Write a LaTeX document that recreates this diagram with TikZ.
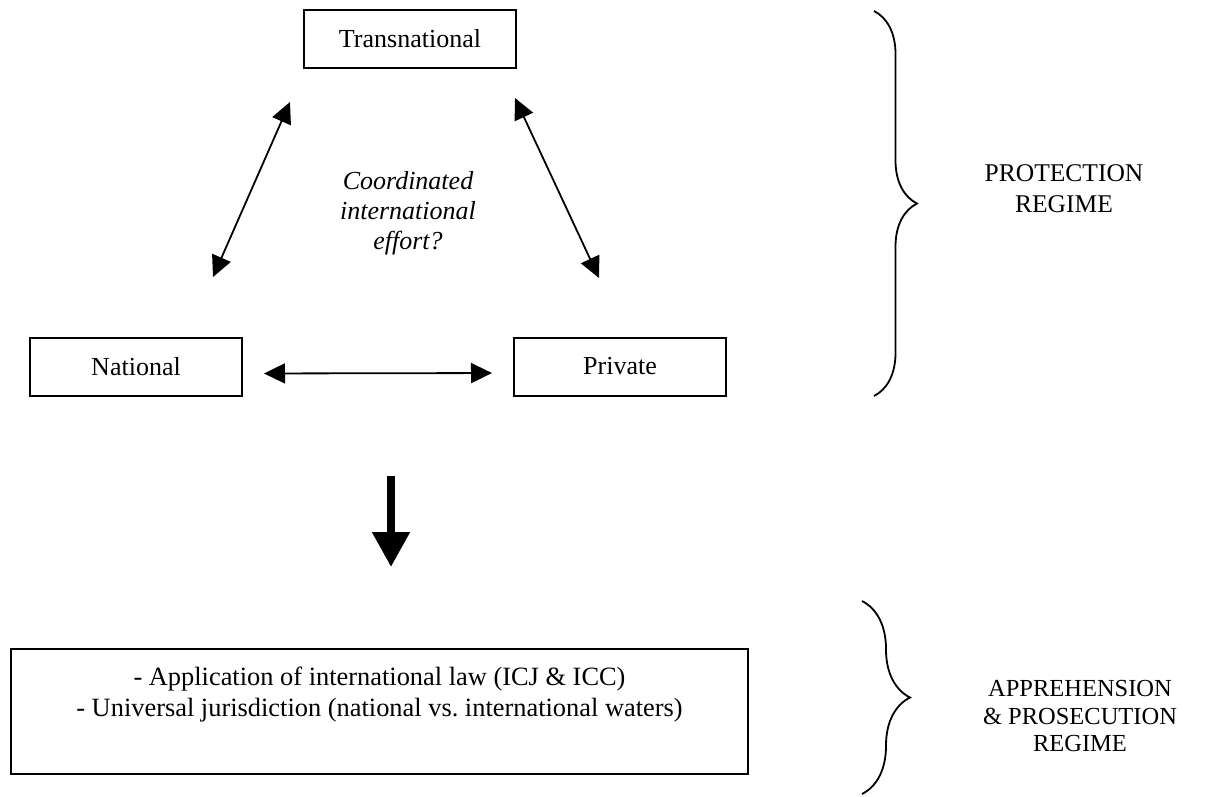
\documentclass[tikz,border=0pt]{standalone}
\usepackage{fontspec}
\setmainfont{Liberation Serif}
\usetikzlibrary{arrows.meta,decorations.pathreplacing}

\begin{document}
\begin{tikzpicture}[x=1pt,y=-1pt,
  every node/.style={font=\fontsize{26}{30}\selectfont},
  actorbox/.style={draw, line width=2pt, minimum width=212pt, minimum height=58pt, inner sep=0pt},
  bigbox/.style={draw, line width=2pt, minimum width=737pt, minimum height=125pt, inner sep=0pt},
  plain/.style={align=center, inner sep=0pt},
  biarrow/.style={line width=1.8pt, {Triangle[length=21pt,width=20pt]}-{Triangle[length=21pt,width=20pt]}},
  bigarrow/.style={line width=8pt, -{Triangle[length=35pt,width=36pt]}},
  regime/.style={line width=1.8pt, decorate, decoration={brace, amplitude=#1}},
]
\useasboundingbox (0,0) rectangle (1207,796);

% the three actors
\node[actorbox] (trans) at (410,39) {Transnational};
\node[actorbox] (nat)   at (136,367) {National};
\node[actorbox] (priv)  at (620,366.5) {Private};

\node[plain, font=\fontsize{26}{30}\selectfont\itshape] (coord) at (408,213)
  {Coordinated\\international\\effort?};

% links between the actors
\coordinate (tl) at (290,102);
\coordinate (bl) at (213,277);
\coordinate (tr) at (515,98);
\coordinate (br) at (599,278);
\draw[biarrow] (bl) -- (tl);
\draw[biarrow] (tr) -- (br);
\draw[biarrow, shorten <=21pt, shorten >=21pt] ([yshift=-6.5pt]nat.east) -- ([yshift=-6.5pt]priv.west);

% transition to the lower regime
\coordinate (downtop) at (391,476);
\coordinate (downtip) at (391,567);
\draw[bigarrow] (downtop) -- (downtip);

% prosecution box
\node[bigbox] (pros) at (379.5,711.5) {};
\node[plain, anchor=north, font=\fontsize{26.4}{31}\selectfont] (prostext) at ([yshift=-19pt]pros.north)
  {- Application of international law (ICJ \& ICC)\\- Universal jurisdiction (national vs.\ international waters)};

% regime braces and labels
\draw[regime=43pt] (874,11) -- (874,396);
\node[plain, font=\fontsize{25.5}{31}\selectfont] (protect) at (1064,189) {PROTECTION\\REGIME};

\draw[regime=48pt] (862,601) -- (862,794);
\node[plain, font=\fontsize{24.5}{27.5}\selectfont] (appre) at (1080,716) {APPREHENSION\\\& PROSECUTION\\REGIME};
\end{tikzpicture}
\end{document}
